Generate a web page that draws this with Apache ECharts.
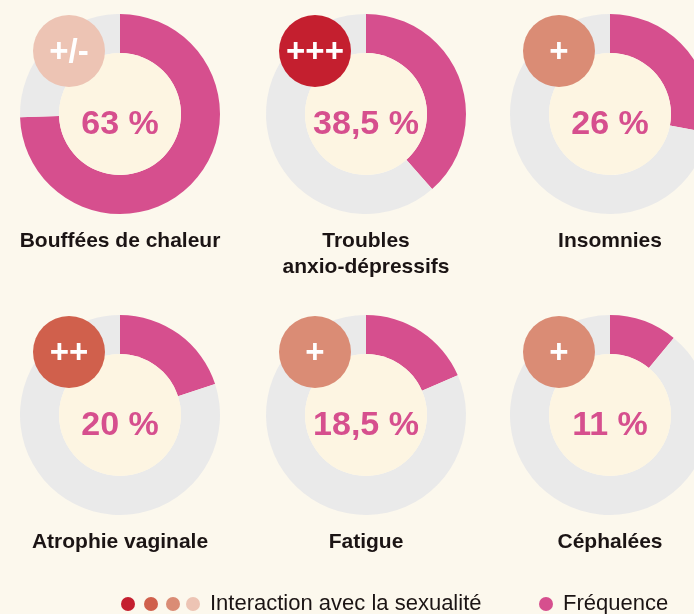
<!DOCTYPE html>
<html>
<head>
<meta charset="utf-8">
<script src="https://cdn.jsdelivr.net/npm/echarts@6/dist/echarts.min.js"></script>
<style>
  html, body { margin: 0; padding: 0; background: #fcf8ed; }
  #chart { width: 694px; height: 614px; }
</style>
</head>
<body>
<div id="chart"></div>
<script>
// categories and values
const names = ["Bouffées de chaleur", "Troubles\nanxio-dépressifs", "Insomnies", "Atrophie vaginale", "Fatigue", "Céphalées"];
const frequency = [63, 38.5, 26, 20, 18.5, 11];
// share of the ring painted pink, as drawn in the picture (the first ring is drawn fuller than its label)
const ringShare = [74.5, 38.5, 28, 20, 18.5, 11];
const interaction = ["+/-", "+++", "+", "++", "+", "+"];

const interactionLevels = ["+++", "++", "+", "+/-"];
const interactionColors = ["#c41f2f", "#d0604c", "#da8c75", "#edc4b4"];

const PINK = "#d64f8e";
const GREY = "#eaeaea";
const CREAM = "#fdf5e2";
const FONT = "'Liberation Sans', Arial, sans-serif";

// layout
const colX = [120, 366, 610];
const rowY = [114, 415];
const R_OUT = 100, R_IN = 61, R_BADGE = 36;

const chart = echarts.init(document.getElementById("chart"));

const series = [];
const graphic = [];

names.forEach((name, i) => {
  const cx = colX[i % 3];
  const cy = rowY[Math.floor(i / 3)];
  const bx = cx - 51, by = cy - 63;

  // ring
  series.push({
    type: "pie",
    center: [cx, cy],
    radius: [R_IN, R_OUT],
    startAngle: 90,
    silent: true,
    animation: false,
    label: { show: false },
    labelLine: { show: false },
    data: [
      { value: ringShare[i], itemStyle: { color: PINK } },
      { value: 100 - ringShare[i], itemStyle: { color: GREY } },
    ],
    z: 1,
  });

  // inner disc
  series.push({
    type: "pie",
    center: [cx, cy],
    radius: [0, R_IN],
    silent: true,
    animation: false,
    label: { show: false },
    data: [{ value: 1, itemStyle: { color: CREAM } }],
    z: 2,
  });

  // interaction badge
  const lvl = interactionLevels.indexOf(interaction[i]);
  series.push({
    type: "pie",
    center: [bx, by],
    radius: [0, R_BADGE],
    silent: true,
    animation: false,
    label: { show: false },
    data: [{ value: 1, itemStyle: { color: interactionColors[lvl] } }],
    z: 3,
  });
  graphic.push({
    type: "text",
    x: bx,
    y: by + 2,
    z: 10,
    style: {
      text: interaction[i],
      fill: "#fff",
      font: "bold 33px " + FONT,
      textAlign: "center",
      textVerticalAlign: "middle",
    },
  });

  // percentage in the middle
  graphic.push({
    type: "text",
    x: cx,
    y: cy + 11,
    z: 10,
    style: {
      text: String(frequency[i]).replace(".", ",") + " %",
      fill: PINK,
      font: "bold 34px " + FONT,
      textAlign: "center",
      textVerticalAlign: "middle",
    },
  });

  // category name
  graphic.push({
    type: "text",
    x: cx,
    y: cy + 114.5,
    z: 10,
    style: {
      text: name,
      fill: "#1b1414",
      font: "bold 21px " + FONT,
      lineHeight: 26,
      textAlign: "center",
      textVerticalAlign: "top",
    },
  });
});

// legend
const legY = 604;
[128, 151, 173, 193].forEach((x, k) => {
  graphic.push({
    type: "circle",
    shape: { cx: x, cy: legY, r: 7 },
    style: { fill: interactionColors[k] },
  });
});
graphic.push({
  type: "text",
  x: 210,
  y: legY,
  style: {
    text: "Interaction avec la sexualité",
    fill: "#1b1414",
    font: "22px " + FONT,
    textVerticalAlign: "middle",
  },
});
graphic.push({
  type: "circle",
  shape: { cx: 546, cy: legY, r: 7 },
  style: { fill: PINK },
});
graphic.push({
  type: "text",
  x: 563,
  y: legY,
  style: {
    text: "Fréquence",
    fill: "#1b1414",
    font: "22px " + FONT,
    textVerticalAlign: "middle",
  },
});

chart.setOption({
  backgroundColor: "#fcf8ed",
  animation: false,
  series,
  graphic,
});
</script>
</body>
</html>
